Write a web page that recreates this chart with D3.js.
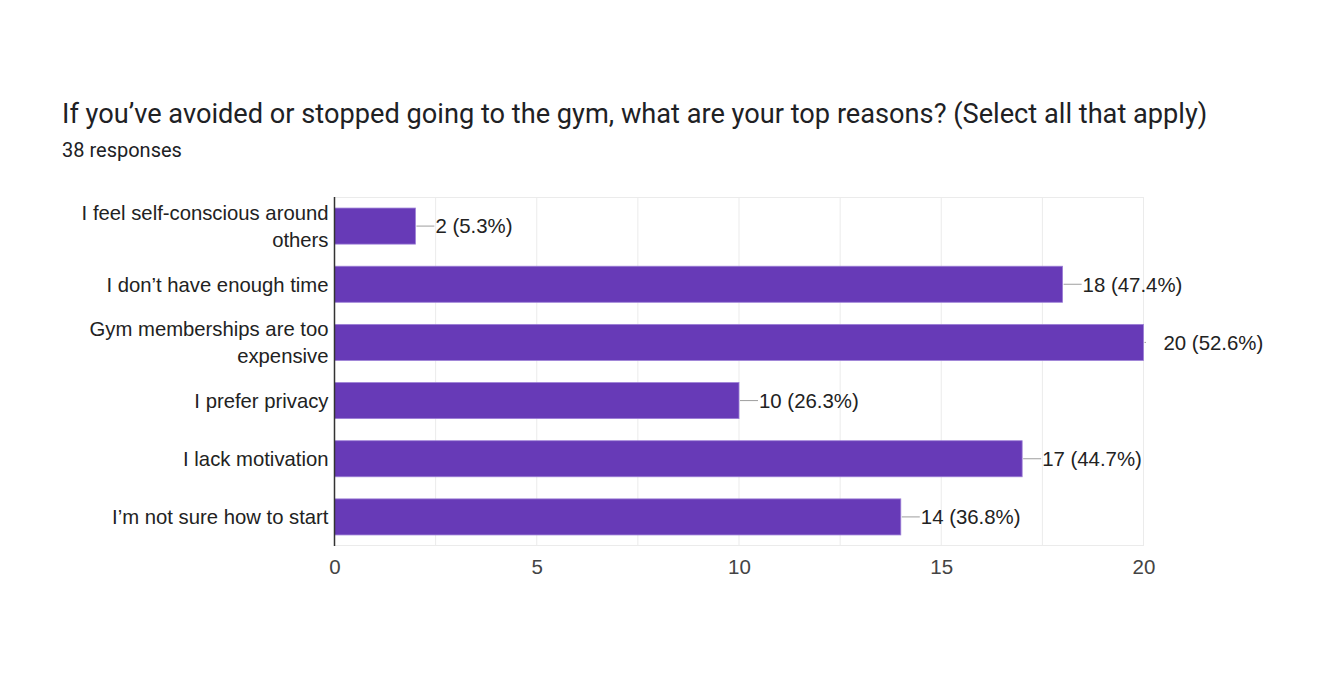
<!DOCTYPE html>
<html><head><meta charset="utf-8">
<script src="https://cdn.jsdelivr.net/npm/d3@7"></script>
<style>
html,body{margin:0;padding:0;background:#fff;}
svg{display:block;}
</style></head>
<body>
<svg id="chart" width="1332" height="674"></svg>
<script>
const categories = [
  ["I feel self-conscious around", "others"],
  ["I don\u2019t have enough time"],
  ["Gym memberships are too", "expensive"],
  ["I prefer privacy"],
  ["I lack motivation"],
  ["I\u2019m not sure how to start"]
];
const counts = [2, 18, 20, 10, 17, 14];
const percents = ["5.3%", "47.4%", "52.6%", "26.3%", "44.7%", "36.8%"];
const xTicks = [0, 5, 10, 15, 20];
const gridValues = [0, 2.5, 5, 7.5, 10, 12.5, 15, 17.5, 20];
const title = "If you\u2019ve avoided or stopped going to the gym, what are your top reasons? (Select all that apply)";
const subtitle = "38 responses";

(function () {
const svg = d3.select("#chart");
const pl = 334.5, pr = 1143.5, pt = 197, pb = 546;
const labelFont = "'Liberation Sans', Arial, sans-serif";

svg.append("text").attr("x", 62).attr("y", 123)
  .attr("font-family", "Roboto, sans-serif").attr("font-size", 27.2)
  .attr("fill", "#202124").text(title);
svg.append("text").attr("x", 62).attr("y", 156.5)
  .attr("font-family", "Roboto, sans-serif").attr("font-size", 20)
  .attr("fill", "#202124").text(subtitle);

const x = d3.scaleLinear().domain([0, 20]).range([pl, pr]);
const y = d3.scaleBand().domain(d3.range(categories.length)).range([pt, pb])
  .paddingInner(0.38).paddingOuter(0.19);

svg.append("g").selectAll("line").data(gridValues).join("line")
  .attr("x1", d => x(d)).attr("x2", d => x(d)).attr("y1", pt).attr("y2", pb)
  .attr("stroke", "#ebebeb").attr("stroke-width", 1);
svg.append("line").attr("x1", pl).attr("x2", pr).attr("y1", pt + 0.5).attr("y2", pt + 0.5)
  .attr("stroke", "#ebebeb");
svg.append("line").attr("x1", pl).attr("x2", pr).attr("y1", pb - 0.5).attr("y2", pb - 0.5)
  .attr("stroke", "#ebebeb");

svg.append("g").selectAll("rect").data(counts).join("rect")
  .attr("x", x(0)).attr("y", (d, i) => y(i))
  .attr("width", d => x(d) - x(0)).attr("height", y.bandwidth())
  .attr("fill", "#673ab7").attr("stroke", "#9c7fd6").attr("stroke-width", 0.8);

const lab = svg.append("g");
counts.forEach((d, i) => {
  const cy = y(i) + y.bandwidth() / 2;
  const atEdge = x(d) >= pr - 0.5;
  lab.append("line").attr("x1", x(d) + 1).attr("x2", x(d) + (atEdge ? 2.5 : 19))
    .attr("y1", cy).attr("y2", cy)
    .attr("stroke", "#9e9e9e").attr("stroke-width", 1);
  lab.append("text").attr("x", x(d) + 20).attr("y", cy).attr("dy", "0.36em")
    .attr("font-family", labelFont).attr("font-size", 20.4)
    .attr("fill", "#222").text(`${d} (${percents[i]})`);
});

const cat = svg.append("g");
categories.forEach((lines, i) => {
  const cy = y(i) + y.bandwidth() / 2;
  const lh = 27;
  lines.forEach((t, j) => {
    cat.append("text").attr("x", pl - 6).attr("y", cy + (j - (lines.length - 1) / 2) * lh)
      .attr("dy", "0.36em").attr("text-anchor", "end")
      .attr("font-family", labelFont).attr("font-size", 20.3)
      .attr("fill", "#222").text(t);
  });
});

svg.append("line").attr("x1", pl).attr("x2", pl).attr("y1", pt).attr("y2", pb)
  .attr("stroke", "#333").attr("stroke-width", 1.5);

const xAxis = svg.append("g").attr("transform", `translate(0,${pb})`)
  .call(d3.axisBottom(x).tickValues(xTicks).tickSize(0).tickPadding(13).tickFormat(d3.format("d")));
xAxis.select(".domain").remove();
xAxis.selectAll("text").attr("font-family", labelFont)
  .attr("font-size", 20.5).attr("fill", "#444");
})();
</script>
</body></html>
